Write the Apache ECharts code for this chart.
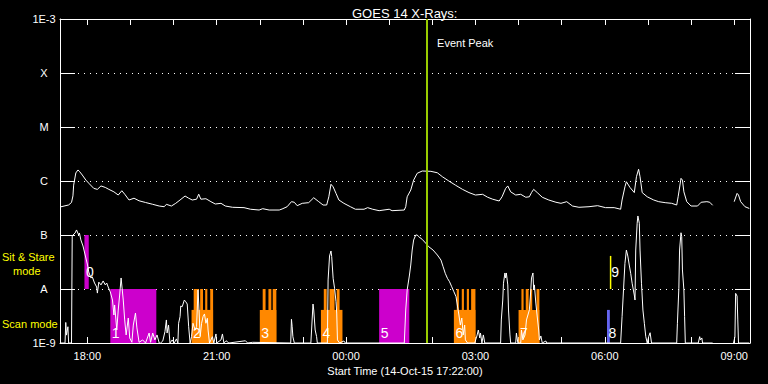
<!DOCTYPE html>
<html><head><meta charset="utf-8">
<script src="https://cdn.jsdelivr.net/npm/echarts@6/dist/echarts.min.js"></script>
<style>html,body{margin:0;padding:0;background:#000;}#c{width:768px;height:384px;}</style>
</head><body><div id="c"></div><script>
// ---- text ----
const titleText = 'GOES 14 X-Rays:';
const xAxisTitle = 'Start Time (14-Oct-15 17:22:00)';
const startTime = '17:22';
const spanHours = 16;
const peakTime = '01:52';
const peakText = 'Event Peak';
const classLabels = {'-3':'1E-3','-4':'X','-5':'M','-6':'C','-7':'B','-8':'A','-9':'1E-9'};
const tickHours = [18,19,20,21,22,23,24,25,26,27,28,29,30,31,32,33];
const labelHours = [18,21,24,27,30,33];

// ---- GOES long channel (1-8 A), W/m^2 ----
const longChannel = [
['17:22',3.3e-7],['17:34',3.6e-7],['17:38',4.0e-7],['17:40',5.3e-7],['17:41',8.4e-7],['17:44',1.41e-6],['17:47',1.6e-6],['17:49',1.51e-6],['17:53',1.29e-6],['17:58',1.04e-6],
['18:02',9.1e-7],['18:09',7.3e-7],['18:14',7.0e-7],['18:19',8.1e-7],['18:25',7.6e-7],['18:30',7.0e-7],['18:37',6.3e-7],['18:43',5.5e-7],['18:48',6.6e-7],['18:52',5.7e-7],
['18:58',4.45e-7],['19:05',4.8e-7],['19:12',4.3e-7],['19:21',4.0e-7],['19:31',3.7e-7],['19:40',3.44e-7],['19:47',3.34e-7],['19:50',3.7e-7],['19:57',3.44e-7],['20:03',3.86e-7],
['20:09',4.45e-7],['20:16',5.27e-7],['20:21',4.8e-7],['20:26',4.45e-7],['20:32',4.6e-7],['20:35',5.7e-7],['20:38',4.6e-7],['20:45',4.7e-7],['20:52',4.14e-7],['20:58',3.75e-7],
['21:06',3.86e-7],['21:12',3.44e-7],['21:22',3.26e-7],['21:38',3.21e-7],['21:47',3.0e-7],['21:59',2.9e-7],['22:04',3.07e-7],['22:13',2.9e-7],['22:27',2.9e-7],['22:31',3.03e-7],
['22:38',3.34e-7],['22:44',4.14e-7],['22:48',4.04e-7],['22:52',3.49e-7],['22:59',3.86e-7],['23:08',3.97e-7],['23:15',4.9e-7],['23:22',4.14e-7],['23:28',3.59e-7],['23:33',3.59e-7],
['23:36',5.1e-7],['23:39',8.7e-7],['23:42',7.8e-7],['23:46',5.9e-7],['23:50',4.45e-7],['23:57',3.86e-7],['00:06',3.34e-7],['00:13',3.0e-7],['00:25',3.0e-7],['00:30',3.21e-7],
['00:37',3.0e-7],['00:46',2.82e-7],['01:00',3.0e-7],['01:04',2.82e-7],['01:21',2.9e-7],['01:23',3.34e-7],['01:25',5.1e-7],['01:30',6.8e-7],['01:34',1.04e-6],['01:39',1.39e-6],
['01:46',1.53e-6],['01:58',1.51e-6],['02:07',1.42e-6],['02:14',1.2e-6],['02:23',1.0e-6],['02:32',8.4e-7],['02:42',7.0e-7],['02:51',6.1e-7],['03:00',5.5e-7],['03:10',5.67e-7],
['03:17',5.0e-7],['03:24',4.6e-7],['03:33',4.26e-7],['03:37',5.1e-7],['03:42',7.3e-7],['03:45',8.1e-7],['03:49',6.3e-7],['03:56',5.5e-7],['04:03',5.67e-7],['04:10',5.0e-7],
['04:15',5.1e-7],['04:18',6.1e-7],['04:21',7.0e-7],['04:26',6.1e-7],['04:33',5.0e-7],['04:42',4.45e-7],['04:52',4.04e-7],['04:59',3.86e-7],['05:07',4.14e-7],['05:15',3.44e-7],
['05:24',3.26e-7],['05:38',3.34e-7],['05:50',3.49e-7],['06:01',3.21e-7],['06:13',3.21e-7],['06:22',3.0e-7],['06:24',4.45e-7],['06:28',7.8e-7],['06:30',9.7e-7],['06:35',7.6e-7],
['06:41',6.1e-7],['06:44',1.2e-6],['06:47',1.65e-6],['06:49',1.2e-6],['06:52',6.1e-7],['06:59',5.1e-7],['07:08',4.45e-7],['07:15',4.14e-7],['07:24',3.97e-7],['07:33',3.86e-7],
['07:40',3.59e-7],['07:42',5.1e-7],['07:46',1.12e-6],['07:48',1.04e-6],['07:50',6.3e-7],['07:54',4.14e-7],['08:00',3.44e-7],['08:09',3.44e-7],['08:14',4.04e-7],['08:22',4.14e-7],
['08:26',4.04e-7],['08:30',3.55e-7],['08:40',null],['09:00',4.14e-7],['09:04',5.9e-7],['09:06',5.5e-7],['09:09',4.14e-7],['09:15',3.34e-7],['09:21',3.1e-7]
];

// ---- GOES short channel (0.5-4 A), W/m^2 ----
const shortChannel = [
['17:22',1e-9],['17:29',1e-9],['17:30',2.4e-9],['17:31',1.4e-9],['17:33',2.0e-9],['17:34',1e-9],['17:38',1e-9],['17:39',9.7e-8],['17:43',1.09e-7],['17:45',1.24e-7],
['17:48',1.0e-7],['17:49',1.09e-7],['17:51',8.1e-8],['17:54',6.25e-8],['17:57',4.26e-8],['18:00',2.9e-8],['18:02',2.07e-8],['18:05',1.6e-8],['18:07',1.67e-8],['18:10',1.29e-8],
['18:13',1.09e-8],['18:14',8.4e-9],['18:16',1.34e-8],['18:19',1.19e-8],['18:22',1.41e-8],['18:25',1.19e-8],['18:27',1.29e-8],['18:29',1.09e-8],['18:32',8.8e-9],['18:35',6.25e-9],
['18:37',3.3e-9],['18:38',5.06e-9],['18:41',1.74e-9],['18:43',4.08e-9],['18:45',7.74e-9],['18:47',1.6e-8],['18:50',6.25e-9],['18:52',2.67e-9],['18:54',1.41e-9],['18:57',2.9e-9],
['18:59',1.24e-9],['19:02',1.03e-9],['19:04',2.15e-9],['19:07',3.59e-9],['19:09',1.9e-9],['19:12',1.03e-9],['19:17',1.14e-9],['19:21',1e-9],['19:26',1.53e-9],['19:28',1.03e-9],
['19:31',1.53e-9],['19:34',1.14e-9],['19:37',1.41e-9],['19:40',1e-9],['19:42',1e-9],['19:45',1.09e-9],['19:48',1.62e-9],['19:50',2.67e-9],['19:51',1.53e-9],['19:53',2.15e-9],
['19:55',1e-9],['19:58',1.14e-9],['20:01',1e-9],['20:04',1.19e-9],['20:06',1e-9],['20:07',2.32e-9],['20:09',3.07e-9],['20:10',4.84e-9],['20:12',4.7e-9],['20:15',6.25e-9],
['20:17',5.8e-9],['20:19',5.27e-9],['20:21',2.0e-9],['20:23',1e-9],['20:25',1.31e-9],['20:27',2.32e-9],['20:30',1.74e-9],['20:32',2.0e-9],['20:34',9.6e-9],['20:35',5.5e-9],
['20:37',1.31e-9],['20:39',2.32e-9],['20:41',3.07e-9],['20:43',3.45e-9],['20:45',2.32e-9],['20:47',2.87e-9],['20:48',1.74e-9],['20:50',1e-9],['20:54',1.31e-9],['20:56',1e-9],
['20:59',1.47e-9],['21:00',1e-9],['21:06',1.14e-9],['21:08',1.47e-9],['21:10',1e-9],['21:13',1.1e-9],['21:17',1e-9],['21:40',1.1e-9],['21:43',1e-9],['21:50',1.03e-9],
['22:43',1e-9],['22:44',2.75e-9],['22:45',2.0e-9],['22:46',1.31e-9],['22:48',1e-9],['23:11',1e-9],['23:12',1.74e-9],['23:14',5.27e-9],['23:15',4.08e-9],['23:17',1.74e-9],
['23:19',1.31e-9],['23:20',1e-9],['23:34',1e-9],['23:35',1.47e-8],['23:37',4.08e-8],['23:39',5.06e-8],['23:40',4.0e-8],['23:42',1.58e-8],['23:44',1.03e-8],['23:46',5.8e-9],
['23:47',3.59e-9],['23:48',1.14e-9],['23:51',1e-9],['23:57',1.09e-9],['23:59',1e-9],['01:21',1e-9],['01:23',4.08e-9],['01:25',9.6e-9],['01:28',1.74e-8],['01:30',2.78e-8],
['01:32',5.27e-8],['01:34',8.07e-8],['01:37',1.0e-7],['01:39',1.0e-7],['01:41',9.3e-8],['01:46',8.3e-8],['01:51',7.0e-8],['01:55',6.07e-8],['02:01',5.27e-8],['02:07',4.26e-8],
['02:12',3.44e-8],['02:15',2.59e-8],['02:18',1.95e-8],['02:21',1.58e-8],['02:24',1.36e-8],['02:27',1.1e-8],['02:30',8.9e-9],['02:33',7.2e-9],['02:35',4.84e-9],['02:37',3.3e-9],
['02:39',2.15e-9],['02:41',2.9e-9],['02:43',1.41e-9],['02:45',2.15e-9],['02:46',1.14e-9],['02:49',1e-9],['02:59',1e-9],['03:02',1.35e-9],['03:04',1.74e-9],['03:06',1.24e-9],
['03:07',1.53e-9],['03:09',1e-9],['03:11',1.41e-9],['03:13',1e-9],['03:35',1e-9],['03:36',2.67e-9],['03:38',6.25e-9],['03:39',1.28e-8],['03:41',1.98e-8],['03:42',1.6e-8],
['03:43',1.98e-8],['03:45',1.19e-8],['03:46',4.08e-9],['03:48',1.41e-9],['03:49',1e-9],['03:56',1e-9],['03:57',1.53e-9],['03:59',1e-9],['04:03',1e-9],['04:04',1.74e-9],
['04:06',1.14e-9],['04:09',1.41e-9],['04:11',2.67e-9],['04:15',4.08e-9],['04:17',9.6e-9],['04:18',1.6e-8],['04:20',1.98e-8],['04:21',9.6e-9],['04:22',1.19e-8],['04:24',5.5e-9],
['04:26',3.03e-9],['04:28',1.74e-9],['04:29',1.14e-9],['04:31',1.35e-9],['04:33',1e-9],['04:38',1.09e-9],['04:39',1e-9],['06:22',1e-9],['06:24',3.07e-9],['06:26',9.6e-9],
['06:28',2.99e-8],['06:30',5.27e-8],['06:32',4.08e-8],['06:34',2.78e-8],['06:36',1.95e-8],['06:38',1.28e-8],['06:41',7.74e-9],['06:42',6.25e-9],['06:43',5.27e-8],['06:45',1.65e-7],
['06:46',2.25e-7],['06:48',1.65e-7],['06:49',5.27e-8],['06:51',1.28e-8],['06:53',4.08e-9],['06:55',2.32e-9],['06:57',1.31e-9],['06:59',1e-9],['07:01',1.31e-9],['07:03',1.55e-9],
['07:05',1e-9],['07:40',1e-9],['07:41',2.32e-9],['07:43',1.03e-8],['07:44',5.27e-8],['07:46',1.1e-7],['07:47',9.3e-8],['07:48',2.25e-8],['07:50',9.6e-9],['07:51',3.07e-9],
['07:52',1e-9],['08:10',1e-9],['08:12',1.31e-9],['08:13',1.14e-9],['08:15',1.24e-9],['08:16',1e-9],['08:30',1e-9],['08:40',null],['08:59',1e-9],['09:01',1.29e-9],
['09:02',8.3e-9],['09:04',7.4e-9],['09:05',2.67e-9],['09:06',1e-9],['09:21',1e-9]
];

// ---- observations (0-9) ----
const obsLabels = ['0','1','2','3','4','5','6','7','8','9'];
const obsStart  = ['17:56','18:32','20:25','22:00','23:25','00:46','02:30','04:00','06:03','06:07'];
const obsEnd    = ['18:02','19:36','20:55','22:23','23:55','01:28','03:00','04:29','06:07','06:08'];
const obsLow    = [1e-8, 1e-9, 1e-9, 1e-9, 1e-9, 1e-9, 1e-9, 1e-9, 1e-9, 1e-8];
const obsHigh   = [1e-7, 1e-8, 4.1e-9, 4.1e-9, 4.1e-9, 1e-8, 4.1e-9, 4.1e-9, 4.1e-9, 4.1e-8];
const obsMode   = ['sit','sit','scan','scan','scan','sit','scan','scan','other','short'];
// scan raster segments reaching level A
const rasterStart = ['20:28','20:37','20:44','20:51','22:04','22:12','22:18','23:29','23:37','23:47','02:34','02:41','02:48','02:54','04:04','04:10','04:16','04:25'];
const rasterEnd   = ['20:35','20:41','20:47','20:55','22:08','22:16','22:23','23:33','23:44','23:51','02:37','02:44','02:51','03:00','04:07','04:14','04:19','04:29'];
const rasterLow = 1e-9, rasterHigh = 1e-8;

const modeColors = {sit:'#cc00cc', scan:'#ff8800', other:'#6464f0', short:'#ffff00'};
const FONT = 'Liberation Sans';

function toHours(s){ const p = s.split(':').map(Number); let h = p[0] + p[1]/60; if (h < 12) h += 24; return h; }
const START = toHours(startTime), END = START + spanHours, PEAK = toHours(peakTime);
function series(arr){ return arr.map(d => [toHours(d[0]), d[1] === null ? '-' : d[1]]); }
function hourFmt(v){ const h = Math.round(v) % 24; return (h < 10 ? '0' : '') + h + ':00'; }

const obsData = obsLabels.map((l, i) => ({
  value: [toHours(obsStart[i]), toHours(obsEnd[i]), obsLow[i], obsHigh[i], i],
  itemStyle: {color: modeColors[obsMode[i]]}
}));
const rasterData = rasterStart.map((s, i) => ({
  value: [toHours(s), toHours(rasterEnd[i]), rasterLow, rasterHigh],
  itemStyle: {color: modeColors.scan}
}));

function rectItem(api){
  const a = api.coord([api.value(0), api.value(3)]);
  const b = api.coord([api.value(1), api.value(2)]);
  return {type:'rect', shape:{x:a[0], y:a[1], width:Math.max(b[0]-a[0], 1.5), height:b[1]-a[1]}, style:{fill: api.visual('color')}};
}

const xBase = {type:'value', min:START, max:END,
  axisLine:{show:true, lineStyle:{color:'#fff', width:1}},
  axisTick:{show:true, inside:true, length:6, customValues:tickHours, lineStyle:{color:'#fff'}},
  splitLine:{show:false}};
const yBase = {type:'log', logBase:10, min:1e-9, max:1e-3, splitNumber:6,
  axisLine:{show:true, lineStyle:{color:'#fff', width:1}},
  axisTick:{show:true, inside:true, length:15, lineStyle:{color:'#fff'}}};

const chart = echarts.init(document.getElementById('c'), null, {renderer:'svg'});
chart.setOption({
  backgroundColor:'#000',
  animation:false,
  textStyle:{fontFamily:FONT},
  title:{text:titleText, left:347, top:2, textStyle:{color:'#fff', fontSize:13, fontWeight:'normal', fontFamily:FONT}},
  grid:{left:60, right:18, top:19, bottom:41},
  xAxis:[
    Object.assign({}, xBase, {position:'bottom',
      axisLabel:{customValues:labelHours, formatter:hourFmt, color:'#fff', fontSize:11, margin:7, fontFamily:FONT},
      name:xAxisTitle, nameLocation:'middle', nameGap:16, nameTextStyle:{color:'#fff', fontSize:11, fontFamily:FONT}}),
    Object.assign({}, xBase, {position:'top', axisLabel:{show:false}})
  ],
  yAxis:[
    Object.assign({}, yBase, {position:'left',
      axisLabel:{color:'#fff', fontSize:11, align:'center', margin:16, fontFamily:FONT,
        formatter: v => classLabels[String(Math.round(Math.log10(v)))] || ''},
      splitLine:{show:true, lineStyle:{color:'#fff', width:1, type:[1,5]}}}),
    Object.assign({}, yBase, {position:'right', axisLabel:{show:false}, splitLine:{show:false}})
  ],
  graphic:[
    {type:'text', x:2, y:257, style:{text:'Sit & Stare', fill:'#ffff00', font:'11px "Liberation Sans"', verticalAlign:'middle'}},
    {type:'text', x:13, y:271, style:{text:'mode', fill:'#ffff00', font:'11px "Liberation Sans"', verticalAlign:'middle'}},
    {type:'text', x:2, y:324, style:{text:'Scan mode', fill:'#ffff00', font:'11px "Liberation Sans"', verticalAlign:'middle'}}
  ],
  series:[
    {type:'custom', name:'obs', z:1, silent:true, encode:{x:[0,1], y:[2,3]}, data:obsData,
      renderItem:(params, api) => {
        const rect = rectItem(api);
        const i = api.value(4);
        const lvl = obsLow[i] >= 1e-8 ? 2.1e-8 : 1.55e-9;
        const p = api.coord([api.value(0), lvl]);
        return {type:'group', children:[rect,
          {type:'text', x:p[0]+1.5, y:p[1], z2:5, style:{text:obsLabels[i], fill:'#fff', font:'14px "Liberation Sans"', align:'left', verticalAlign:'middle'}}]};
      }},
    {type:'custom', name:'raster', z:1, silent:true, encode:{x:[0,1], y:[2,3]}, data:rasterData,
      renderItem:(params, api) => rectItem(api)},
    {type:'line', name:'long', z:3, silent:true, showSymbol:false, symbol:'none', connectNulls:false,
      lineStyle:{color:'#fff', width:1}, data:series(longChannel),
      markLine:{silent:true, symbol:['none','none'], label:{show:false},
        lineStyle:{color:'#99cc00', width:2, type:'solid'}, data:[{xAxis:PEAK}]},
      markPoint:{silent:true, symbol:'circle', symbolSize:1, itemStyle:{color:'rgba(0,0,0,0)'},
        label:{show:true, position:'right', distance:10, formatter:peakText, color:'#fff', fontSize:11, fontFamily:FONT},
        data:[{coord:[PEAK, 3.6e-4]}]}},
    {type:'line', name:'short', z:3, silent:true, showSymbol:false, symbol:'none', connectNulls:false,
      lineStyle:{color:'#fff', width:1}, data:series(shortChannel)}
  ]
});
</script></body></html>
